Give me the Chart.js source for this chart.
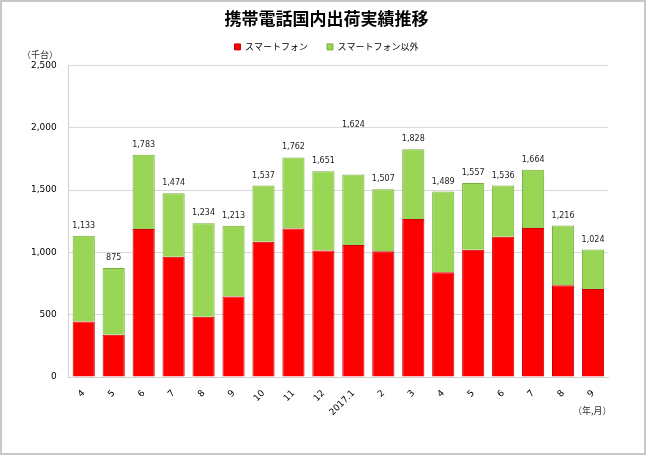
<!DOCTYPE html>
<html>
<head>
<meta charset="utf-8">
<script src="https://cdn.jsdelivr.net/npm/chart.js@4/dist/chart.umd.min.js"></script>
<style>
  body { margin: 0; background: #fff; }
</style>
</head>
<body>
<canvas id="chart" width="646" height="455"></canvas>
<script>
// months (2016.4 - 2017.9)
const months = ['4', '5', '6', '7', '8', '9', '10', '11', '12', '2017.1', '2', '3', '4', '5', '6', '7', '8', '9']
// thousand units
const smartphone = [445, 340, 1187, 965, 485, 646, 1085, 1192, 1015, 1059, 1010, 1268, 841, 1021, 1125, 1195, 737, 707]
const others = [688, 535, 596, 509, 749, 567, 452, 570, 636, 565, 497, 560, 648, 536, 411, 469, 479, 317]
const totals = [1133, 875, 1783, 1474, 1234, 1213, 1537, 1762, 1651, 1624, 1507, 1828, 1489, 1557, 1536, 1664, 1216, 1024]
const yTicks = [0, 500, 1000, 1500, 2000, 2500]

const fmt = v => v.toLocaleString('en-US')

const extras = {
  id: 'extras',
  beforeInit(chart) {
    // a bit more room under the legend
    const fit = chart.legend.fit
    chart.legend.fit = function () {
      fit.call(this)
      this.height += 4
    }
  },
  afterLayout(chart) {
    // title and legend are centred on the whole sheet, not the plot
    const shift = 13
    for (const box of [chart.titleBlock, chart.legend]) {
      box.left += shift
      box.right += shift
    }
  },
  beforeDraw(chart) {
    const c = chart.ctx
    c.save()
    c.fillStyle = '#fff'
    c.fillRect(0, 0, chart.width, chart.height)
    c.strokeStyle = '#c8c8c8'
    c.lineWidth = 2
    c.strokeRect(1, 1, chart.width - 2, chart.height - 2)
    c.restore()
  },
  afterDatasetsDraw(chart) {
    const c = chart.ctx
    const meta = chart.getDatasetMeta(1)
    c.save()
    c.font = '8px "DejaVu Sans", Verdana, sans-serif'
    c.fillStyle = '#222'
    c.textAlign = 'center'
    c.textBaseline = 'bottom'
    meta.data.forEach((bar, i) => {
      // the 2017.1 label sits higher in the original
      const lift = i === 9 ? 40 : 0
      c.fillText(fmt(totals[i]), bar.x, bar.y - 6 - lift)
    })
    c.font = '9px "Noto Sans CJK JP", sans-serif'
    c.fillStyle = '#333'
    c.textAlign = 'left'
    c.textBaseline = 'middle'
    c.fillText('（千台）', 22, 55)
    c.fillText('（年,月）', 573, 411)
    c.restore()
  }
}

new Chart(document.getElementById('chart'), {
  type: 'bar',
  data: {
    labels: months,
    datasets: [
      {
        label: 'スマートフォン',
        data: smartphone,
        backgroundColor: '#ff0000',
        borderColor: '#c80000',
        borderWidth: 1,
        barPercentage: 0.74,
        categoryPercentage: 1
      },
      {
        label: 'スマートフォン以外',
        data: others,
        backgroundColor: '#99d655',
        borderColor: '#78b040',
        borderWidth: 1,
        barPercentage: 0.74,
        categoryPercentage: 1
      }
    ]
  },
  options: {
    responsive: false,
    animation: false,
    layout: { padding: { left: 19, right: 38, top: 6, bottom: 34 } },
    plugins: {
      title: {
        display: true,
        text: '携帯電話国内出荷実績推移',
        font: { family: '"Noto Sans CJK JP", sans-serif', size: 17, weight: 'bold' },
        color: '#000',
        padding: { top: 2, bottom: -5 }
      },
      legend: {
        labels: {
          font: { family: '"Noto Sans CJK JP", sans-serif', size: 9 },
          color: '#000',
          boxWidth: 6,
          boxHeight: 6,
          padding: 19
        }
      },
      tooltip: { enabled: false }
    },
    scales: {
      x: {
        stacked: true,
        grid: { display: false },
        border: { color: '#d0d0d0' },
        ticks: {
          color: '#000',
          maxRotation: 45,
          minRotation: 45,
          font: { family: '"DejaVu Sans", Verdana, sans-serif', size: 9 }
        }
      },
      y: {
        stacked: true,
        min: 0,
        max: 2500,
        afterBuildTicks: axis => { axis.ticks = yTicks.map(v => ({ value: v })) },
        grid: { color: '#d9d9d9', drawTicks: false },
        border: { color: '#d0d0d0' },
        ticks: {
          color: '#000',
          padding: 12,
          callback: v => fmt(v),
          font: { family: '"DejaVu Sans", Verdana, sans-serif', size: 9 }
        }
      }
    }
  },
  plugins: [extras]
})
</script>
</body>
</html>
